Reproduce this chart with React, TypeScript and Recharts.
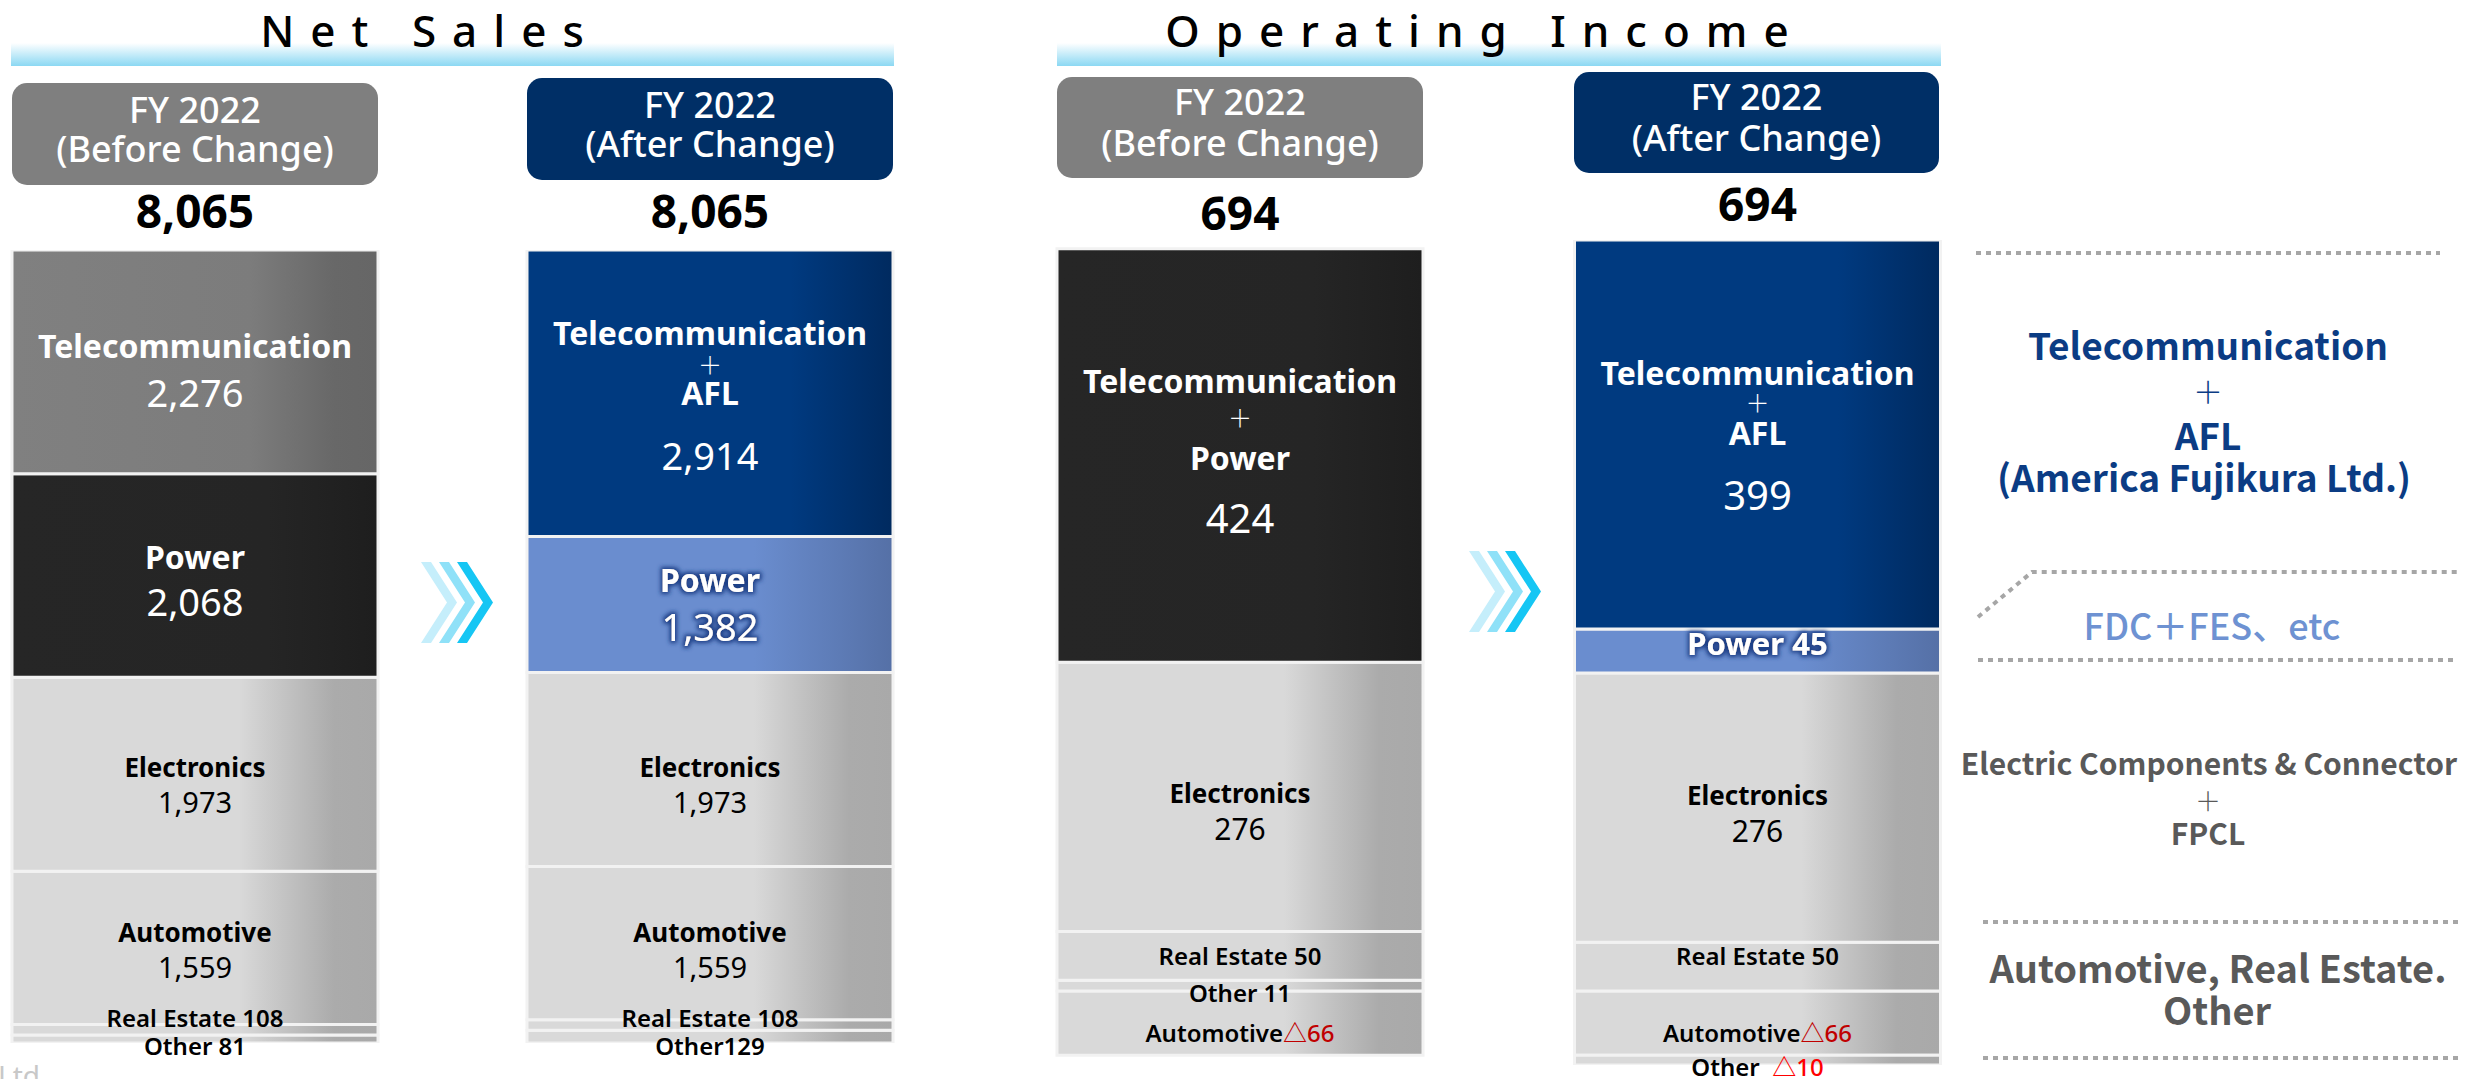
import React from 'react';
import { BarChart, Bar, XAxis, YAxis, Cell, LabelList } from 'recharts';

// ---------------- DATA ----------------
const nsCategories = ['FY 2022 (Before Change)', 'FY 2022 (After Change)'];
const nsTelecom = [2276, 2914];
const nsPower = [2068, 1382];
const nsElectronics = [1973, 1973];
const nsAutomotive = [1559, 1559];
const nsRealEstate = [108, 108];
const nsOther = [81, 129];
const nsTotals = [8065, 8065];

const oiCategories = ['FY 2022 (Before Change)', 'FY 2022 (After Change)'];
const oiTelecom = [424, 399];
const oiPower = [0, 45];
const oiElectronics = [276, 276];
const oiRealEstate = [50, 50];
const oiOther = [11, -10];
const oiAutomotive = [-66, -66];
const oiTotals = [694, 694];

const panelTitles = ['Net Sales', 'Operating Income'];
const headerLine1 = ['FY 2022', 'FY 2022'];
const headerLine2 = ['(Before Change)', '(After Change)'];

const nsData = nsCategories.map((c, i) => ({
  category: c,
  other: nsOther[i],
  realEstate: nsRealEstate[i],
  automotive: nsAutomotive[i],
  electronics: nsElectronics[i],
  power: nsPower[i],
  telecom: nsTelecom[i],
}));
const oiData = oiCategories.map((c, i) => ({
  category: c,
  automotive: oiAutomotive[i],
  other: oiOther[i],
  realEstate: oiRealEstate[i],
  electronics: oiElectronics[i],
  power: oiPower[i],
  telecom: oiTelecom[i],
}));
const nsKeys = ['other', 'realEstate', 'automotive', 'electronics', 'power', 'telecom'];
const oiKeys = ['automotive', 'other', 'realEstate', 'electronics', 'power', 'telecom'];

const nsMax = Math.max(...nsData.map((r) => nsKeys.reduce((s, k) => s + Math.max(0, (r as any)[k]), 0)));
const oiMax = Math.max(...oiData.map((r) => oiKeys.reduce((s, k) => s + Math.max(0, (r as any)[k]), 0)));
const oiMin = Math.min(...oiData.map((r) => oiKeys.reduce((s, k) => s + Math.min(0, (r as any)[k]), 0)));

// ---------------- STYLES ----------------
const FONT = "'Noto Sans', 'Noto Sans CJK JP', 'DejaVu Sans', sans-serif";
const JFONT = "'Noto Sans CJK JP', 'Noto Sans', sans-serif";
const W = '#ffffff';
const K = '#000000';

const LIGHT = 'url(#gLight)';
const fillsNS: Record<string, string[]> = {
  telecom: ['url(#gGrayDark)', 'url(#gNavy)'],
  power: ['url(#gBlack)', 'url(#gBlue)'],
  electronics: [LIGHT, LIGHT],
  automotive: [LIGHT, LIGHT],
  realEstate: [LIGHT, LIGHT],
  other: [LIGHT, LIGHT],
};
const fillsOI: Record<string, string[]> = {
  telecom: ['url(#gBlack)', 'url(#gNavy)'],
  power: ['url(#gBlue)', 'url(#gBlue)'],
  electronics: [LIGHT, LIGHT],
  automotive: [LIGHT, LIGHT],
  realEstate: [LIGHT, LIGHT],
  other: [LIGHT, LIGHT],
};

type Line = {
  text: string;
  dy: number;
  size: number;
  weight: number;
  fill: string;
  valueFill?: string;
  glow?: boolean;
  family?: string;
};
const nm = (text: string, dy: number, size: number, fill: string, glow = false): Line => ({ text, dy, size, weight: 700, fill, glow });
const nv = (dy: number, size: number, fill: string, glow = false): Line => ({ text: '{v}', dy, size, weight: 400, fill, glow });
const pl = (dy: number, fill: string): Line => ({ text: '＋', dy, size: 24, weight: 300, fill, family: JFONT });
const sm = (text: string, dy: number, valueFill?: string): Line => ({ text, dy, size: 24, weight: 600, fill: K, valueFill });

const nsLabels: Record<string, Line[][]> = {
  telecom: [
    [nm('Telecommunication', -4, 32, W), nv(45, 38, W)],
    [nm('Telecommunication', -48, 32, W), pl(-19, W), nm('AFL', 12, 32, W), nv(77, 38, W)],
  ],
  power: [
    [nm('Power', -6, 32, W), nv(41, 38, W)],
    [nm('Power', -12, 32, W, true), nv(37, 38, W, true)],
  ],
  electronics: [
    [nm('Electronics', 3, 26, K), nv(39, 29, K)],
    [nm('Electronics', 8, 26, K), nv(44, 29, K)],
  ],
  automotive: [
    [nm('Automotive', -6, 26, K), nv(30, 29, K)],
    [nm('Automotive', -1, 26, K), nv(35, 29, K)],
  ],
  realEstate: [[sm('Real Estate {v}', -3)], [sm('Real Estate {v}', 2)]],
  other: [[sm('Other {v}', 16)], [sm('Other{v}', 18)]],
};

const oiLabels: Record<string, Line[][]> = {
  telecom: [
    [nm('Telecommunication', -63, 32, W), pl(-29, W), nm('Power', 14, 32, W), nv(77, 40, W)],
    [nm('Telecommunication', -50, 32, W), pl(-23, W), nm('AFL', 10, 32, W), nv(75, 40, W)],
  ],
  power: [[], [{ text: 'Power {v}', dy: 4, size: 31, weight: 700, fill: W, glow: true }]],
  electronics: [
    [nm('Electronics', 6, 26, K), nv(43, 30, K)],
    [nm('Electronics', -3, 26, K), nv(34, 30, K)],
  ],
  realEstate: [[sm('Real Estate {v}', 9)], [sm('Real Estate {v}', -2)]],
  other: [[sm('Other {v}', 16)], [sm('Other\u00a0\u00a0{v}', 16, '#ff0000')]],
  automotive: [[sm('Automotive{v}', 19, '#c00000')], [sm('Automotive{v}', 19, '#c00000')]],
};

const fmt = (v: number) => (v < 0 ? '△' + Math.abs(v).toLocaleString('en-US') : v.toLocaleString('en-US'));

// which category a label belongs to is taken from the bar's own position
const geom = (p: any, chartW: number) => {
  const vb = p.viewBox && typeof p.viewBox.x === 'number' ? p.viewBox : p;
  const x = Number(vb.x), y = Number(vb.y), w = Number(vb.width), h = Number(vb.height);
  const top = Math.min(y, y + h);
  const cx = x + w / 2;
  const idx = cx < chartW / 2 ? 0 : 1;
  return { cx, top, cy: top + Math.abs(h) / 2, idx };
};

const makeLabel = (spec: Line[][], chartW: number) => (p: any) => {
  const { cx, cy, idx } = geom(p, chartW);
  const lines = spec[idx] || [];
  if (!lines.length) return null;
  const v = fmt(Number(p.value));
  return (
    <g>
      {lines.map((ln, k) => {
        const parts = ln.text.split('{v}');
        const hasV = ln.text.indexOf('{v}') >= 0;
        return (
          <text
            key={k}
            x={cx}
            y={cy + ln.dy}
            textAnchor="middle"
            fontFamily={ln.family || FONT}
            fontSize={ln.size}
            fontWeight={ln.weight}
            fill={ln.fill}
            filter={ln.glow ? 'url(#glowBlue)' : undefined}
            style={{ whiteSpace: 'pre' }}
          >
            {parts[0]}
            {hasV && <tspan fill={ln.valueFill || ln.fill} fontWeight={ln.valueFill ? 500 : ln.weight}>{v}</tspan>}
            {parts[1] || ''}
          </text>
        );
      })}
    </g>
  );
};

const makeTotal = (totals: number[], offset: number, chartW: number) => (p: any) => {
  const { cx, top, idx } = geom(p, chartW);
  return (
    <text x={cx} y={top - offset} textAnchor="middle" fontFamily={FONT} fontSize={46} fontWeight={700} fill="#000">
      {fmt(totals[idx])}
    </text>
  );
};

type PanelProps = {
  data: any[];
  keys: string[];
  fills: Record<string, string[]>;
  labels: Record<string, Line[][]>;
  totals: number[];
  totalOffset: number;
  domain: [number, number];
  left: number;
  width: number;
  top: number;
  bottom: number;
  barSize: number;
  stackOffset?: 'sign' | 'none';
  overlay: boolean;
};

function Panel(props: PanelProps) {
  const { data, keys, fills, labels, totals, totalOffset, domain, left, width, top, bottom, barSize, stackOffset, overlay } = props;
  return (
    <div style={{ position: 'absolute', left, top: 0, width, height: 1079 }}>
      <BarChart
        width={width}
        height={1079}
        data={data}
        margin={{ top, right: 0, bottom, left: 0 }}
        stackOffset={stackOffset || 'none'}
        barCategoryGap={0}
      >
        <XAxis dataKey="category" hide />
        <YAxis hide type="number" domain={domain} allowDataOverflow />
        {keys.map((k) => (
          <Bar
            key={k}
            dataKey={k}
            stackId="s"
            barSize={barSize}
            isAnimationActive={false}
            fill={overlay ? 'none' : '#d9d9d9'}
            stroke={overlay ? 'none' : '#f2f2f2'}
            strokeWidth={overlay ? 0 : 3}
          >
            {!overlay && data.map((_, i) => <Cell key={i} fill={fills[k][i]} />)}
            {overlay && <LabelList dataKey={k} content={makeLabel(labels[k], width)} />}
            {overlay && k === keys[keys.length - 1] && (
              <LabelList dataKey={k} content={makeTotal(totals, totalOffset, width)} />
            )}
          </Bar>
        ))}
      </BarChart>
    </div>
  );
}

// ---------------- DECORATION LAYOUT ----------------
const headerBoxes = [
  { x: 12, y: 83, w: 366, h: 102, fill: '#7f7f7f', y1: 123, y2: 162, t: 0 },
  { x: 527, y: 78, w: 366, h: 102, fill: '#002f66', y1: 118, y2: 157, t: 1 },
  { x: 1057, y: 77, w: 366, h: 101, fill: '#7f7f7f', y1: 115, y2: 156, t: 0 },
  { x: 1574, y: 72, w: 365, h: 101, fill: '#002f66', y1: 110, y2: 151, t: 1 },
];
const chevronBases = [
  { x: 421, y: 562 },
  { x: 1469, y: 551 },
];
const chevronColors = ['#c5eefb', '#8fe1f8', '#16c6f4'];

function Chevrons({ x, y }: { x: number; y: number }) {
  const h = 81, t = 10, d = 26, step = 18;
  return (
    <g>
      {chevronColors.map((c, i) => {
        const x0 = x + i * step;
        const pts = [
          [x0, y], [x0 + t, y], [x0 + t + d, y + h / 2], [x0 + t, y + h], [x0, y + h], [x0 + d, y + h / 2],
        ].map((p) => p.join(',')).join(' ');
        return <polygon key={i} points={pts} fill={c} />;
      })}
    </g>
  );
}

const dotted = { stroke: '#a6a6a6', strokeWidth: 4, strokeDasharray: '5 5', fill: 'none' };

function Decorations() {
  return (
    <svg width={2469} height={1079} style={{ position: 'absolute', left: 0, top: 0 }}>
      <defs>
        <linearGradient id="gTitle" x1="0" y1="0" x2="0" y2="1">
          <stop offset="0" stopColor="#ffffff" />
          <stop offset="1" stopColor="#8bd8f3" />
        </linearGradient>
        <linearGradient id="gLight" x1="0" y1="0" x2="1" y2="0">
          <stop offset="0" stopColor="#d9d9d9" />
          <stop offset="0.62" stopColor="#d9d9d9" />
          <stop offset="0.88" stopColor="#ababab" />
          <stop offset="1" stopColor="#a9a9a9" />
        </linearGradient>
        <linearGradient id="gGrayDark" x1="0" y1="0" x2="1" y2="0">
          <stop offset="0" stopColor="#808080" />
          <stop offset="0.65" stopColor="#7c7c7c" />
          <stop offset="0.88" stopColor="#686868" />
          <stop offset="1" stopColor="#666666" />
        </linearGradient>
        <linearGradient id="gBlack" x1="0" y1="0" x2="1" y2="0">
          <stop offset="0" stopColor="#262626" />
          <stop offset="0.7" stopColor="#252525" />
          <stop offset="1" stopColor="#1e1e1e" />
        </linearGradient>
        <linearGradient id="gNavy" x1="0" y1="0" x2="1" y2="0">
          <stop offset="0" stopColor="#003a80" />
          <stop offset="0.72" stopColor="#003a80" />
          <stop offset="1" stopColor="#002a5f" />
        </linearGradient>
        <linearGradient id="gBlue" x1="0" y1="0" x2="1" y2="0">
          <stop offset="0" stopColor="#6a8dcf" />
          <stop offset="0.62" stopColor="#6a8dcf" />
          <stop offset="1" stopColor="#5570a6" />
        </linearGradient>
        <filter id="glowBlue" x="-20%" y="-60%" width="140%" height="220%">
          <feMorphology in="SourceAlpha" operator="dilate" radius="1.5" result="d" />
          <feGaussianBlur in="d" stdDeviation="2" result="b" />
          <feFlood floodColor="#1d3f86" />
          <feComposite in2="b" operator="in" result="g" />
          <feMerge>
            <feMergeNode in="g" />
            <feMergeNode in="SourceGraphic" />
          </feMerge>
        </filter>
      </defs>

      <rect x={11} y={43} width={883} height={23} fill="url(#gTitle)" />
      <rect x={1057} y={43} width={884} height={23} fill="url(#gTitle)" />
      <text x={430} y={47} textAnchor="middle" fontFamily={FONT} fontSize={44} fontWeight={500} letterSpacing={16} fill="#000">
        {panelTitles[0]}
      </text>
      <text x={1485} y={47} textAnchor="middle" fontFamily={FONT} fontSize={44} fontWeight={500} letterSpacing={16} fill="#000">
        {panelTitles[1]}
      </text>

      {headerBoxes.map((b, i) => (
        <g key={i}>
          <rect x={b.x} y={b.y} width={b.w} height={b.h} rx={15} ry={15} fill={b.fill} />
          <text x={b.x + b.w / 2} y={b.y1} textAnchor="middle" fontFamily={FONT} fontSize={36} fontWeight={500} fill="#fff">
            {headerLine1[b.t]}
          </text>
          <text x={b.x + b.w / 2} y={b.y2} textAnchor="middle" fontFamily={FONT} fontSize={36} fontWeight={500} fill="#fff">
            {headerLine2[b.t]}
          </text>
        </g>
      ))}

      {chevronBases.map((c, i) => (
        <Chevrons key={i} x={c.x} y={c.y} />
      ))}

      {/* right-side annotations */}
      <line x1={1976} y1={253} x2={2440} y2={253} {...dotted} />
      <text x={2208} y={360} textAnchor="middle" fontFamily={JFONT} fontSize={37} fontWeight={700} fill="#0b3c84">Telecommunication</text>
      <text x={2208} y={403} textAnchor="middle" fontFamily={JFONT} fontSize={30} fontWeight={300} fill="#0b3c84">＋</text>
      <text x={2208} y={450} textAnchor="middle" fontFamily={JFONT} fontSize={37} fontWeight={700} fill="#0b3c84">AFL</text>
      <text x={2204} y={492} textAnchor="middle" fontFamily={JFONT} fontSize={37} fontWeight={700} fill="#0b3c84">(America Fujikura Ltd.)</text>
      <polyline points="1978,617 2032,572 2458,572" {...dotted} />
      <text x={2212} y={640} textAnchor="middle" fontFamily={JFONT} fontSize={36} fontWeight={500} fill="#6e92d2">FDC＋FES、etc</text>
      <line x1={1978} y1={660} x2={2454} y2={660} {...dotted} />
      <text x={2209} y={775} textAnchor="middle" fontFamily={JFONT} fontSize={30} fontWeight={600} fill="#595959">Electric Components &amp; Connector</text>
      <text x={2208} y={811} textAnchor="middle" fontFamily={JFONT} fontSize={26} fontWeight={300} fill="#595959">＋</text>
      <text x={2208} y={845} textAnchor="middle" fontFamily={JFONT} fontSize={30} fontWeight={600} fill="#595959">FPCL</text>
      <line x1={1983} y1={922} x2={2460} y2={922} {...dotted} />
      <text x={2218} y={983} textAnchor="middle" fontFamily={JFONT} fontSize={38} fontWeight={600} fill="#595959">Automotive, Real Estate.</text>
      <text x={2217} y={1025} textAnchor="middle" fontFamily={JFONT} fontSize={38} fontWeight={600} fill="#595959">Other</text>
      <line x1={1983} y1={1058} x2={2460} y2={1058} {...dotted} />

      <text x={-2} y={1086} fontFamily={FONT} fontSize={28} fill="#c8c8c8">Ltd</text>
    </svg>
  );
}

export default function App() {
  const ns = {
    data: nsData,
    keys: nsKeys,
    fills: fillsNS,
    labels: nsLabels,
    totals: nsTotals,
    totalOffset: 22,
    domain: [0, nsMax] as [number, number],
    left: -63,
    width: 1030,
    top: 250,
    bottom: 36,
    barSize: 366,
  };
  const oi = {
    data: oiData,
    keys: oiKeys,
    fills: fillsOI,
    labels: oiLabels,
    totals: oiTotals,
    totalOffset: 19,
    domain: [oiMin, oiMax] as [number, number],
    left: 981,
    width: 1035,
    top: 240,
    bottom: 14,
    barSize: 366,
    stackOffset: 'sign' as const,
  };
  return (
    <div style={{ position: 'absolute', left: 0, top: 0, width: 2469, height: 1079, overflow: 'hidden', background: '#fff' }}>
      <Decorations />
      <Panel {...ns} overlay={false} />
      <Panel {...oi} overlay={false} />
      <Panel {...ns} overlay={true} />
      <Panel {...oi} overlay={true} />
    </div>
  );
}
